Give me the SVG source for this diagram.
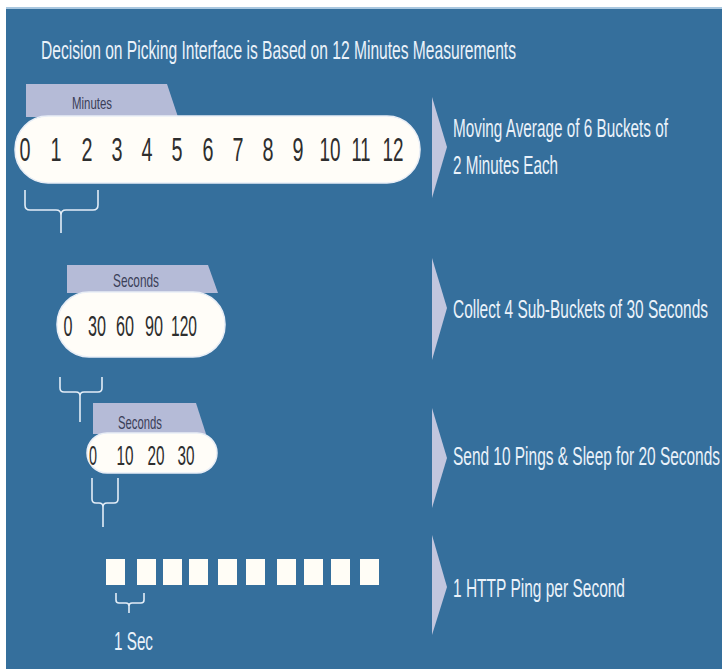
<svg xmlns="http://www.w3.org/2000/svg" width="722" height="669" viewBox="0 0 722 669">
<style>
.t{font-family:"Liberation Sans",Arial,sans-serif;fill:#eaf2fa;font-size:15.6px}
.n{font-family:"Liberation Sans",Arial,sans-serif;fill:#2e2e2e;text-anchor:middle}
.lab{font-family:"Liberation Sans",Arial,sans-serif;fill:#3b4058;text-anchor:middle}
.tab{fill:#b5bbd7}
.pill{fill:#fffdf8;stroke:#e9eef6;stroke-width:1.5}
.chev{fill:#c2c6de}
.br{fill:none;stroke:#e3edf7;stroke-width:1.6}
.sq{fill:#fffdf6}
</style>
<rect x="0" y="0" width="722" height="669" fill="#ffffff"/>
<rect x="6" y="7" width="716" height="2" fill="#a9c7df"/>
<rect x="6" y="9" width="716" height="660" fill="#356f9c"/>

<g id="title">
<text class="t" transform="translate(41,59) scale(1,1.667)" textLength="475" lengthAdjust="spacingAndGlyphs">Decision on Picking Interface is Based on 12 Minutes Measurements</text>
</g>

<g id="minutes-bar">
<polygon class="tab" points="26,84 167,84 178,117 26,117"/>
<text class="lab" transform="translate(92,109) scale(1,1.4)" font-size="11.4" textLength="40" lengthAdjust="spacingAndGlyphs">Minutes</text>
<rect class="pill" x="15" y="116" width="405" height="67" rx="33"/>
<g font-size="19.8">
<text class="n" transform="translate(25,161) scale(1,1.667)" textLength="11" lengthAdjust="spacingAndGlyphs">0</text>
<text class="n" transform="translate(56,161) scale(1,1.667)" textLength="11" lengthAdjust="spacingAndGlyphs">1</text>
<text class="n" transform="translate(87,161) scale(1,1.667)" textLength="11" lengthAdjust="spacingAndGlyphs">2</text>
<text class="n" transform="translate(117,161) scale(1,1.667)" textLength="11" lengthAdjust="spacingAndGlyphs">3</text>
<text class="n" transform="translate(147,161) scale(1,1.667)" textLength="11" lengthAdjust="spacingAndGlyphs">4</text>
<text class="n" transform="translate(177,161) scale(1,1.667)" textLength="11" lengthAdjust="spacingAndGlyphs">5</text>
<text class="n" transform="translate(208,161) scale(1,1.667)" textLength="11" lengthAdjust="spacingAndGlyphs">6</text>
<text class="n" transform="translate(238,161) scale(1,1.667)" textLength="11" lengthAdjust="spacingAndGlyphs">7</text>
<text class="n" transform="translate(268,161) scale(1,1.667)" textLength="11" lengthAdjust="spacingAndGlyphs">8</text>
<text class="n" transform="translate(298,161) scale(1,1.667)" textLength="11" lengthAdjust="spacingAndGlyphs">9</text>
<text class="n" transform="translate(330,161) scale(1,1.667)" textLength="21" lengthAdjust="spacingAndGlyphs">10</text>
<text class="n" transform="translate(361,161) scale(1,1.667)" textLength="19" lengthAdjust="spacingAndGlyphs">11</text>
<text class="n" transform="translate(393,161) scale(1,1.667)" textLength="21" lengthAdjust="spacingAndGlyphs">12</text>
</g>
</g>

<g id="seconds-bar">
<polygon class="tab" points="67,265 208,265 218,293 67,293"/>
<text class="lab" transform="translate(136,287) scale(1,1.5)" font-size="12" textLength="46" lengthAdjust="spacingAndGlyphs">Seconds</text>
<rect class="pill" x="57" y="292" width="168" height="65" rx="32"/>
<g font-size="17.4">
<text class="n" transform="translate(68,336) scale(1,1.667)" textLength="9" lengthAdjust="spacingAndGlyphs">0</text>
<text class="n" transform="translate(97,336) scale(1,1.667)" textLength="18" lengthAdjust="spacingAndGlyphs">30</text>
<text class="n" transform="translate(125,336) scale(1,1.667)" textLength="18" lengthAdjust="spacingAndGlyphs">60</text>
<text class="n" transform="translate(154,336) scale(1,1.667)" textLength="18" lengthAdjust="spacingAndGlyphs">90</text>
<text class="n" transform="translate(184,336) scale(1,1.667)" textLength="26" lengthAdjust="spacingAndGlyphs">120</text>
</g>
</g>

<g id="subseconds-bar">
<polygon class="tab" points="93,403 196,403 206,434 93,434"/>
<text class="lab" transform="translate(140,429) scale(1,1.5)" font-size="12" textLength="44" lengthAdjust="spacingAndGlyphs">Seconds</text>
<rect class="pill" x="87" y="433" width="130" height="40" rx="20"/>
<g font-size="16.8">
<text class="n" transform="translate(93,465) scale(1,1.667)" textLength="8" lengthAdjust="spacingAndGlyphs">0</text>
<text class="n" transform="translate(125,465) scale(1,1.667)" textLength="17" lengthAdjust="spacingAndGlyphs">10</text>
<text class="n" transform="translate(156,465) scale(1,1.667)" textLength="17" lengthAdjust="spacingAndGlyphs">20</text>
<text class="n" transform="translate(186,465) scale(1,1.667)" textLength="17" lengthAdjust="spacingAndGlyphs">30</text>
</g>
</g>

<g id="pings">
<rect class="sq" x="106" y="559" width="19" height="26"/>
<rect class="sq" x="137" y="559" width="19" height="26"/>
<rect class="sq" x="163" y="559" width="19" height="26"/>
<rect class="sq" x="189" y="559" width="19" height="26"/>
<rect class="sq" x="218" y="559" width="19" height="26"/>
<rect class="sq" x="246" y="559" width="19" height="26"/>
<rect class="sq" x="277" y="559" width="19" height="26"/>
<rect class="sq" x="304" y="559" width="19" height="26"/>
<rect class="sq" x="331" y="559" width="19" height="26"/>
<rect class="sq" x="360" y="559" width="19" height="26"/>
<text class="t" transform="translate(114,650) scale(1,1.667)" font-size="16.2" textLength="39" lengthAdjust="spacingAndGlyphs">1 Sec</text>
</g>

<g id="connectors">
<path class="br" d="M25,190 V205 Q25,210 30,210 H56 Q61,210 61,215 V233 M98,190 V205 Q98,210 93,210 H66 Q61,210 61,215"/>
<path class="br" d="M60,377 V388 Q60,392 64,392 H76 Q80,392 80,396 V422 M102,377 V388 Q102,392 98,392 H84 Q80,392 80,396"/>
<path class="br" d="M92,478 V499 Q92,503 96,503 H99 Q103,503 103,507 V527 M118,478 V499 Q118,503 114,503 H107 Q103,503 103,507"/>
<path class="br" d="M116,593 V600 Q116,603 119,603 H126 Q129,603 129,606 V613 M144,593 V600 Q144,603 141,603 H132 Q129,603 129,606"/>
</g>

<g id="step1">
<polygon class="chev" points="432,97 447,147 432,198"/>
<text class="t" transform="translate(453,137) scale(1,1.667)" textLength="215" lengthAdjust="spacingAndGlyphs">Moving Average of 6 Buckets of</text>
<text class="t" transform="translate(453,174) scale(1,1.667)" textLength="105" lengthAdjust="spacingAndGlyphs">2 Minutes Each</text>
</g>
<g id="step2">
<polygon class="chev" points="432,258 447,308 432,360"/>
<text class="t" transform="translate(453,318) scale(1,1.667)" textLength="255" lengthAdjust="spacingAndGlyphs">Collect 4 Sub-Buckets of 30 Seconds</text>
</g>
<g id="step3">
<polygon class="chev" points="432,408 447,458 432,508"/>
<text class="t" transform="translate(453,465) scale(1,1.667)" textLength="267" lengthAdjust="spacingAndGlyphs">Send 10 Pings &amp; Sleep for 20 Seconds</text>
</g>
<g id="step4">
<polygon class="chev" points="432,535 447,587 432,635"/>
<text class="t" transform="translate(453,597) scale(1,1.667)" textLength="172" lengthAdjust="spacingAndGlyphs">1 HTTP Ping per Second</text>
</g>
</svg>
